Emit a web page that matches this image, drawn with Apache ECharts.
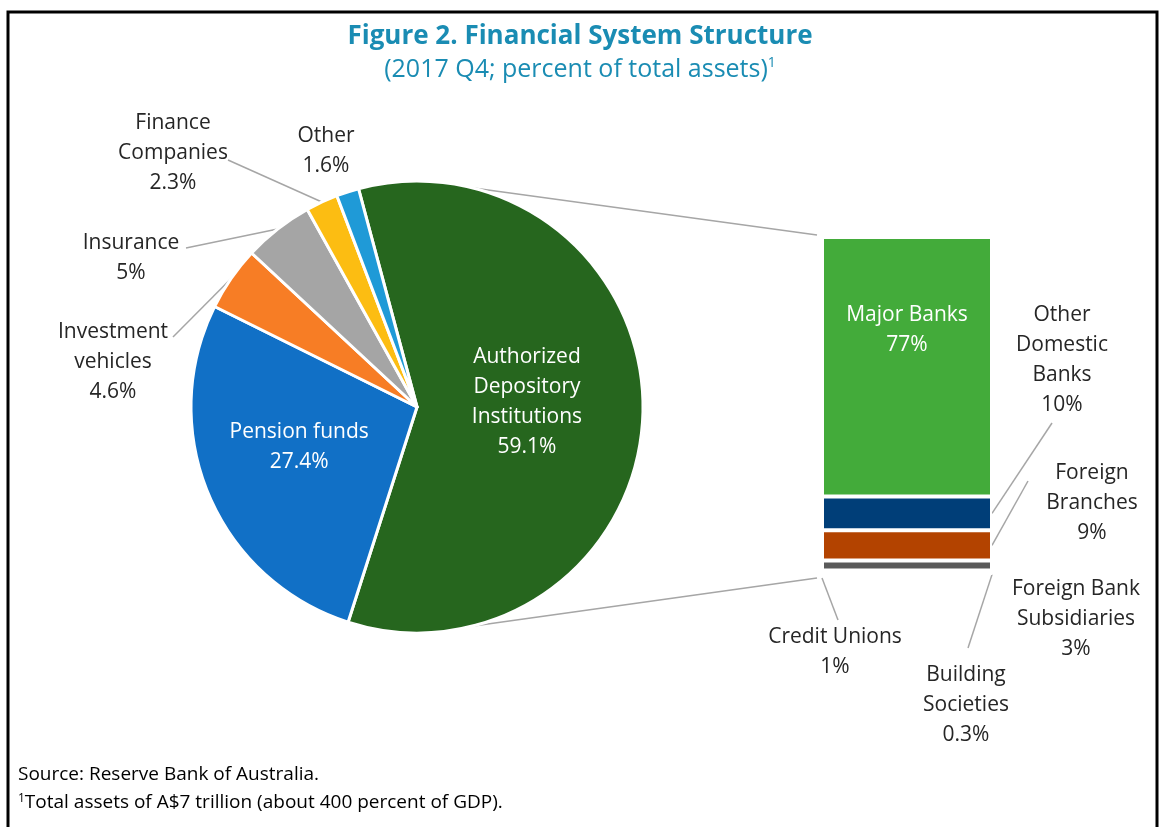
<!DOCTYPE html>
<html>
<head>
<meta charset="utf-8">
<script src="https://cdn.jsdelivr.net/npm/echarts@6/dist/echarts.min.js"></script>
<style>html,body{margin:0;padding:0;background:#fff;}#main{width:1160px;height:827px;}</style>
</head>
<body>
<div id="main"></div>
<script>
// ---- data ----
const pieNames = ['Authorized\nDepository\nInstitutions', 'Pension funds', 'Investment\nvehicles', 'Insurance', 'Finance\nCompanies', 'Other'];
const pieValues = [59.1, 27.4, 4.6, 5, 2.3, 1.6];
const pieLabels = ['59.1%', '27.4%', '4.6%', '5%', '2.3%', '1.6%'];
const barNames = ['Major Banks', 'Other\nDomestic\nBanks', 'Foreign\nBranches', 'Foreign Bank\nSubsidiaries', 'Building\nSocieties', 'Credit Unions'];
const barValues = [77, 10, 9, 3, 0.3, 1];
const barLabels = ['77%', '10%', '9%', '3%', '0.3%', '1%'];

// ---- styles / layout ----
const pieColors = ['#26661e', '#1170c6', '#f77d25', '#a5a5a5', '#fcbd12', '#1f9ad7'];
const barColors = ['#43ab3a', '#003e78', '#b34300', '#5a5a5a', '#5a5a5a', '#5a5a5a'];
const pieCenter = [417, 407];
const pieRadius = 226;
// label centre positions and leader-line end points (null = inside / no line)
const pieLabelPos = [null, null, [113, 362, 173, 337], [131, 258, 186, 248], [173, 153, 228, 160], [326, 151, null, null]];
const pieInsideShift = [[-3, -4], [-5.5, -2.5]];
const barLabelPos = [null, [1062, 360, 1052, 423], [1092, 503, 1028, 481], [1076, 619, null, null], [966, 705, 968, 648], [835, 652, 838, 620]];
// where each bar leader line leaves its segment: [side (0 left / 1 right), fraction down the segment]
const barLineAnchor = [null, [1, 0.5], [1, 0.5], null, [1, 1], [0, 1]];
const barGrid = {left: 822, top: 237, width: 170, height: 338};

const FONT = 'Open Sans';
const TXT = '#262626';
const LINE = '#a6a6a6';
const FS = 21, LH = 30;

const chart = echarts.init(document.getElementById('main'), null, {renderer: 'canvas'});

const pieData = pieNames.map((n, i) => {
  const inside = pieLabelPos[i] === null;
  const hasLine = !inside && pieLabelPos[i][2] !== null;
  return {
    name: n, value: pieValues[i],
    itemStyle: {color: pieColors[i]},
    label: inside ? {position: 'inside', color: '#fff'} : {position: 'outside', color: TXT},
    labelLine: {show: hasLine}
  };
});

const barSeries = barNames.map((n, i) => {
  const inside = barLabelPos[i] === null;
  return {
    type: 'bar', name: n, stack: 'adi', barWidth: barGrid.width,
    data: [barValues[i]],
    itemStyle: {color: barColors[i], borderColor: '#fff', borderWidth: 2},
    label: {
      show: true,
      position: inside ? ['50%', '36%'] : 'right',
      align: 'center', verticalAlign: 'middle',
      formatter: n + '\n' + barLabels[i],
      color: inside ? '#fff' : TXT,
      fontFamily: FONT, fontSize: FS, lineHeight: LH
    },
    labelLine: {show: false},
    labelLayout: function () {
      const pos = barLabelPos[i];
      if (!pos) return {};
      return {x: pos[0], y: pos[1], align: 'center', verticalAlign: 'middle'};
    },
    emphasis: {disabled: true}
  };
});

const option = {
  backgroundColor: '#fff',
  animation: false,
  title: {
    text: 'Figure 2. Financial System Structure',
    subtext: '(2017 Q4; percent of total assets){sup|1}',
    left: 'center', top: 19, itemGap: 6,
    textStyle: {fontFamily: FONT, fontWeight: 'bold', fontSize: 26, color: '#1a8cb3'},
    subtextStyle: {fontFamily: FONT, fontSize: 25, color: '#1a8cb3',
      rich: {sup: {fontFamily: FONT, fontSize: 14, color: '#1a8cb3', verticalAlign: 'top', padding: [0, 0, 14, 0]}}}
  },
  grid: {left: barGrid.left, top: barGrid.top, width: barGrid.width, height: barGrid.height},
  xAxis: {type: 'category', data: ['ADI'], show: false},
  yAxis: {type: 'value', min: 0, max: barValues.reduce((a, b) => a + b, 0), inverse: true, show: false},
  series: [{
    type: 'pie',
    center: pieCenter, radius: pieRadius,
    startAngle: 105, clockwise: true,
    data: pieData,
    itemStyle: {borderColor: '#fff', borderWidth: 3},
    label: {
      formatter: p => p.name + '\n' + pieLabels[p.dataIndex],
      fontFamily: FONT, fontSize: FS, lineHeight: LH, align: 'center'
    },
    labelLine: {lineStyle: {color: LINE, width: 1.5}, length: 10, length2: 10},
    labelLayout: function (p) {
      const pos = pieLabelPos[p.dataIndex];
      if (!pos) {
        const s = pieInsideShift[p.dataIndex];
        return {dx: s[0], dy: s[1]};
      }
      const out = {x: pos[0], y: pos[1], align: 'center', verticalAlign: 'middle'};
      if (pos[2] !== null) {
        out.labelLinePoints = [p.labelLinePoints[0], [pos[2], pos[3]]];
      }
      return out;
    },
    emphasis: {disabled: true}
  }].concat(barSeries)
};
chart.setOption(option);

// connector and leader lines, computed from the pie geometry and the bar's own scale
function addGraphics() {
  const total = barValues.reduce((a, b) => a + b, 0);
  const tl = chart.convertToPixel({gridIndex: 0}, ['ADI', 0]);
  const bl = chart.convertToPixel({gridIndex: 0}, ['ADI', total]);
  const barLeft = tl[0] - barGrid.width / 2;
  const barRight = tl[0] + barGrid.width / 2;
  const a1 = 76 * Math.PI / 180, a2 = -76 * Math.PI / 180;
  const p1 = [pieCenter[0] + pieRadius * Math.cos(a1), pieCenter[1] - pieRadius * Math.sin(a1)];
  const p2 = [pieCenter[0] + pieRadius * Math.cos(a2), pieCenter[1] - pieRadius * Math.sin(a2)];
  const g = [
    {type: 'line', shape: {x1: p1[0], y1: p1[1], x2: barLeft - 5, y2: tl[1] - 2}, style: {stroke: LINE, lineWidth: 1.5}, z: 1},
    {type: 'line', shape: {x1: p2[0], y1: p2[1], x2: barLeft - 5, y2: bl[1] + 3}, style: {stroke: LINE, lineWidth: 1.5}, z: 1}
  ];
  let cum = 0;
  barValues.forEach((v, i) => {
    const a = barLineAnchor[i];
    if (a) {
      const y = chart.convertToPixel({gridIndex: 0}, ['ADI', cum + v * a[1]])[1] + (a[1] === 1 ? 3 : 0);
      const x = a[0] === 0 ? barLeft : barRight;
      const pos = barLabelPos[i];
      g.push({type: 'line', shape: {x1: x, y1: y, x2: pos[2], y2: pos[3]}, style: {stroke: LINE, lineWidth: 1.5}, z: 1});
    }
    cum += v;
  });
  g.push(
    {type: 'rect', shape: {x: 8, y: 12, width: 1149, height: 840}, style: {fill: null, stroke: '#000', lineWidth: 3}, z: 10},
    {type: 'text', left: 18, top: 765, style: {text: 'Source: Reserve Bank of Australia.', font: '19px "' + FONT + '"', fill: '#000'}},
    {type: 'text', left: 18, top: 793, style: {
      text: '{s|1}Total assets of A$7 trillion (about 400 percent of GDP).',
      font: '19px "' + FONT + '"', fill: '#000',
      rich: {s: {fontSize: 12, fontFamily: FONT, fill: '#000', verticalAlign: 'top', padding: [0, 0, 8, 0]}}
    }}
  );
  chart.setOption({graphic: g});
}
addGraphics();
</script>
</body>
</html>
